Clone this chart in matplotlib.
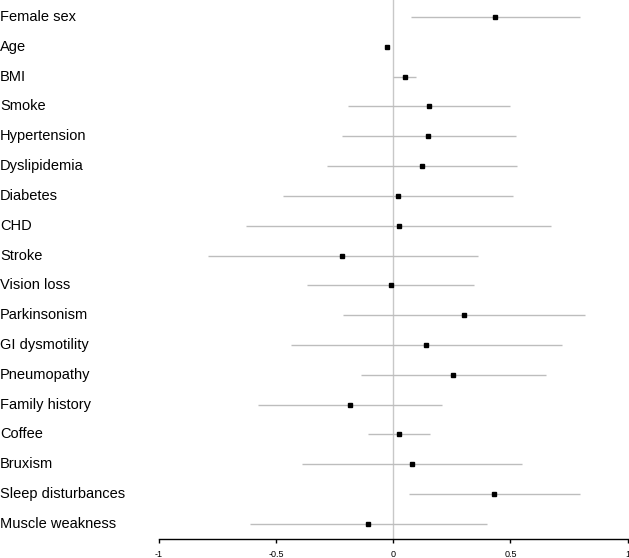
# Forest plot of effect estimates with confidence intervals
import matplotlib.pyplot as plt

# Data
labels = ["Female sex", "Age", "BMI", "Smoke", "Hypertension", "Dyslipidemia",
          "Diabetes", "CHD", "Stroke", "Vision loss", "Parkinsonism",
          "GI dysmotility", "Pneumopathy", "Family history", "Coffee",
          "Bruxism", "Sleep disturbances", "Muscle weakness"]
estimate = [0.435, -0.026, 0.049, 0.154, 0.149, 0.122, 0.019, 0.023, -0.217,
            -0.011, 0.300, 0.139, 0.256, -0.185, 0.024, 0.080, 0.431, -0.108]
lower = [0.075, -0.029, 0.000, -0.192, -0.220, -0.281, -0.472, -0.628, -0.791,
         -0.367, -0.214, -0.436, -0.138, -0.576, -0.108, -0.389, 0.066, -0.611]
upper = [0.796, -0.022, 0.097, 0.500, 0.522, 0.526, 0.512, 0.675, 0.360,
         0.345, 0.820, 0.718, 0.651, 0.206, 0.159, 0.549, 0.796, 0.398]
x_ticks = [-1, -0.5, 0, 0.5, 1]
x_tick_labels = ["-1", "-0.5", "0", "0.5", "1"]

W, H = 629, 558
fig = plt.figure(figsize=(W / 100, H / 100), dpi=100)
plt.rcParams['font.family'] = ['Liberation Sans', 'DejaVu Sans']

# Axes placed so -1..1 spans the same pixels as the reference
left_px, right_px, bottom_px = 158.7, 627.7, 539.3
ax = fig.add_axes([left_px / W, (H - bottom_px) / H, (right_px - left_px) / W, bottom_px / H])

n = len(labels)
ypos = [n - i for i in range(n)]

# Reference line at zero
ax.axvline(0, color="#c8c8c8", lw=1.0, zorder=1)

# Confidence intervals and point estimates
ax.hlines(ypos, lower, upper, color="#bdbdbd", lw=1.0, zorder=2)
ax.plot(estimate, ypos, "s", color="black", markersize=3.4, zorder=3)

# Row labels on the far left
label_x = -left_px / (right_px - left_px)
for y, lab in zip(ypos, labels):
    ax.text(label_x, y, lab, transform=ax.get_yaxis_transform(), fontsize=10.5,
            ha="left", va="center", color="black")

ax.set_xlim(-1, 1)
ax.set_ylim(n - 17.515, n + 17 / 29.82)

# Only the bottom axis, R-style
for side in ["top", "right", "left"]:
    ax.spines[side].set_visible(False)
ax.spines["bottom"].set_bounds(-1, 1)
ax.spines["bottom"].set_linewidth(1.0)
ax.set_yticks([])
ax.set_xticks(x_ticks)
ax.set_xticklabels(x_tick_labels, fontsize=6.5)
ax.tick_params(axis="x", direction="out", length=3, width=1.0, pad=5)

fig.savefig("out.png", dpi=100)
